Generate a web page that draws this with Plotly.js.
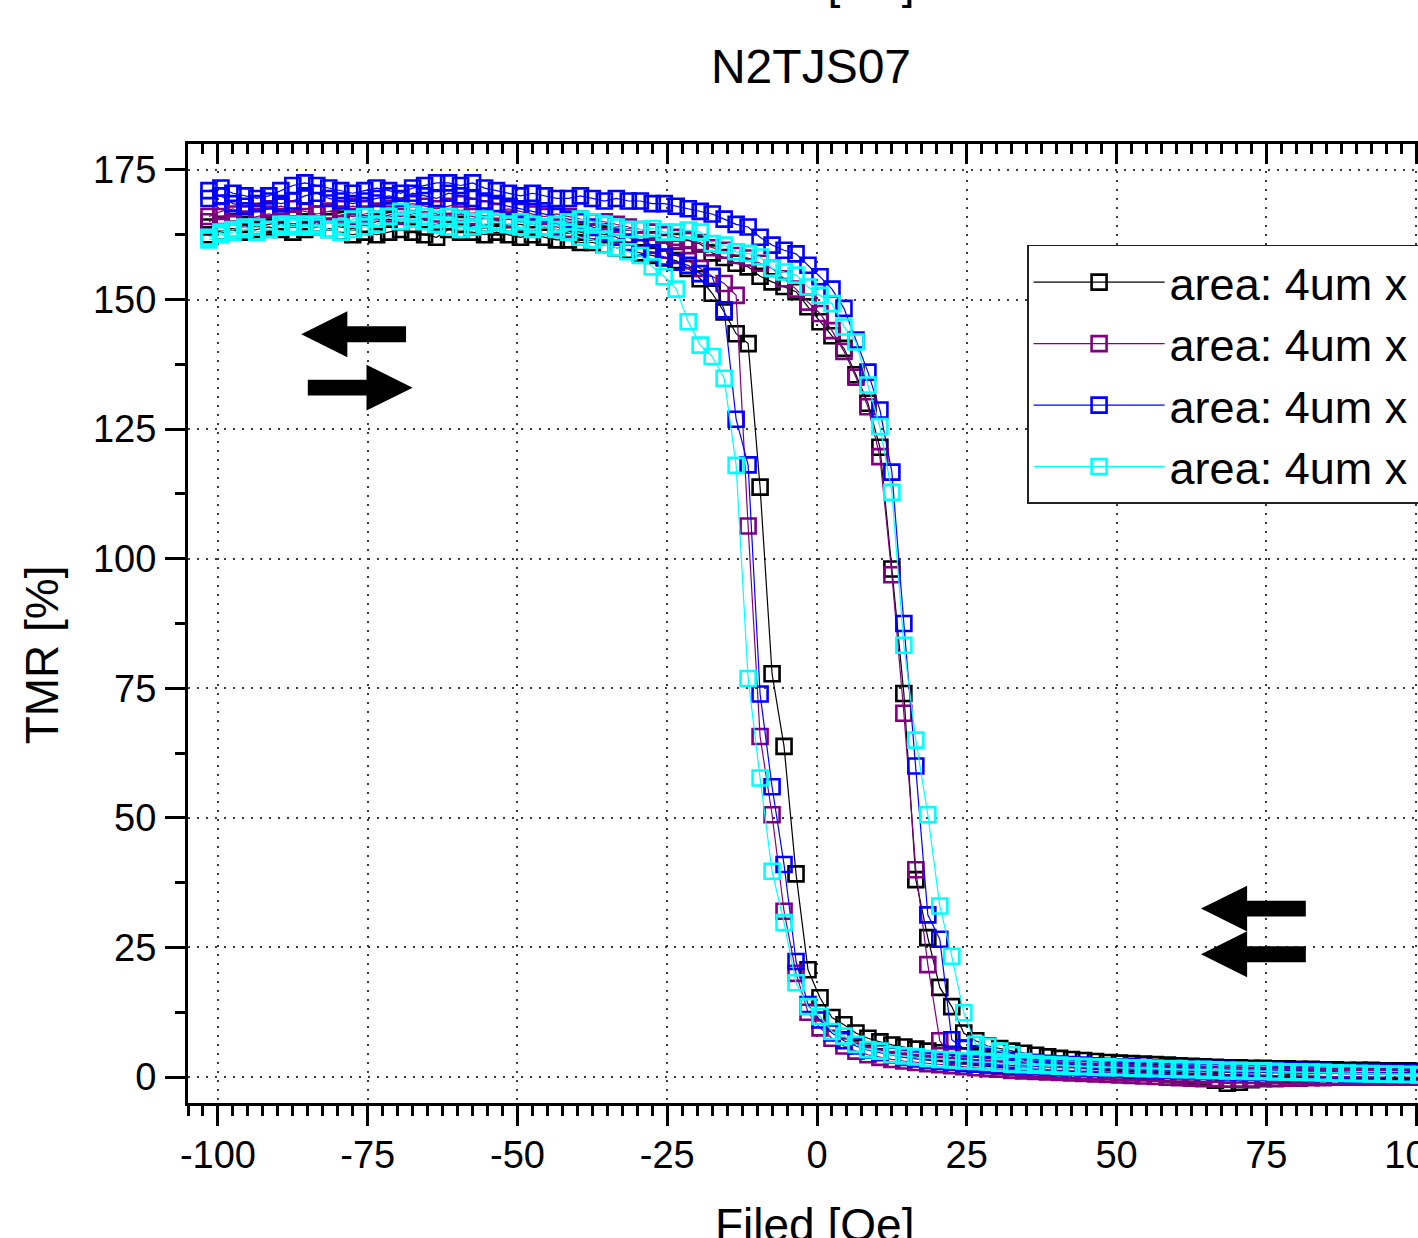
<!DOCTYPE html>
<html>
<head>
<meta charset="utf-8">
<script src="https://cdn.plot.ly/plotly-3.0.1.min.js"></script>
<style>
  html, body { margin: 0; padding: 0; overflow: hidden; background: #fff; }
  #chart { width: 1500px; height: 1300px; }
</style>
</head>
<body>
<div id="chart"></div>
<script>
// Field values (Oe), one sweep, ascending
const field = [-101.5,-99.5,-97.5,-95.5,-93.5,-91.5,-89.5,-87.5,-85.5,-83.5,
  -81.5,-79.5,-77.5,-75.5,-73.5,-71.5,-69.5,-67.5,-65.5,-63.5,
  -61.5,-59.5,-57.5,-55.5,-53.5,-51.5,-49.5,-47.5,-45.5,-43.5,
  -41.5,-39.5,-37.5,-35.5,-33.5,-31.5,-29.5,-27.5,-25.5,-23.5,
  -21.5,-19.5,-17.5,-15.5,-13.5,-11.5,-9.5,-7.5,-5.5,-3.5,
  -1.5,0.5,2.5,4.5,6.5,8.5,10.5,12.5,14.5,16.5,
  18.5,20.5,22.5,24.5,26.5,28.5,30.5,32.5,34.5,36.5,
  38.5,40.5,42.5,44.5,46.5,48.5,50.5,52.5,54.5,56.5,
  58.5,60.5,62.5,64.5,66.5,68.5,70.5,72.5,74.5,76.5,
  78.5,80.5,82.5,84.5,86.5,88.5,90.5,92.5,94.5,96.5,
  98.5,100.5];

// TMR (%) — up sweep (negative -> positive field), listed by ascending field
const blackUp = [164.0,164.5,165.0,164.5,164.0,164.5,165.0,165.5,165.0,164.5,
  165.0,165.5,165.0,164.5,165.0,165.5,165.0,164.5,164.0,164.5,
  165.0,164.5,164.0,164.5,164.0,164.5,164.5,164.0,164.0,163.5,
  163.5,163.0,163.0,162.5,162.5,162.0,161.5,161.5,161.0,161.2,
  161.4,160.7,159.0,158.1,157.0,156.3,154.5,153.4,152.5,151.5,
  148.6,145.7,143.0,140.6,135.5,130.0,121.5,98.0,74.0,38.1,
  26.9,17.3,13.6,8.5,7.0,6.0,5.5,5.0,4.6,4.2,
  3.9,3.6,3.4,3.2,3.0,2.8,2.7,2.6,2.5,2.4,
  2.3,2.2,2.1,2.0,1.9,1.8,1.8,1.7,1.7,1.6,
  1.6,1.5,1.5,1.4,1.4,1.3,1.3,1.3,1.2,1.2,
  1.2,1.1];
const purpleUp = [166.0,167.0,167.5,166.5,167.0,167.5,168.0,167.5,167.0,166.5,
  167.0,167.5,168.0,167.5,167.0,167.5,168.0,168.5,168.0,167.5,
  168.0,168.5,168.0,167.5,167.0,167.5,167.0,166.5,166.0,166.5,
  166.0,165.5,165.0,165.0,164.5,164.0,163.5,163.0,162.5,162.0,
  161.5,161.0,160.0,159.5,158.5,158.0,157.0,156.0,154.0,152.0,
  149.5,147.3,144.0,140.0,135.0,129.3,119.7,96.9,70.2,40.0,
  21.7,7.0,4.0,3.0,2.5,2.2,2.0,1.8,1.6,1.5,
  1.4,1.3,1.2,1.1,1.0,1.0,0.9,0.8,0.8,0.7,
  0.7,0.6,0.6,0.5,0.5,0.4,0.4,0.3,0.3,0.3,
  0.2,0.2,0.2,0.1,0.1,0.1,0.0,0.0,0.0,0.0,
  0.0,0.0];
const blueUp = [171.0,171.5,170.5,170.0,169.5,170.0,171.0,172.0,172.5,172.0,
  171.5,171.0,170.5,171.0,171.5,171.0,170.5,171.5,172.0,172.5,
  172.5,172.0,172.5,171.5,171.0,170.5,170.0,170.5,170.0,169.5,
  169.5,170.0,169.5,169.0,169.5,169.0,169.0,168.5,168.5,168.0,
  167.5,167.0,166.5,165.5,164.5,164.0,162.0,160.5,159.5,158.8,
  156.6,154.4,152.0,148.3,142.2,136.0,128.7,116.7,87.5,60.0,
  31.3,26.6,7.2,5.5,4.5,4.0,3.5,3.2,3.0,2.8,
  2.6,2.5,2.4,2.3,2.2,2.1,2.0,2.0,1.9,1.8,
  1.8,1.7,1.6,1.6,1.5,1.5,1.4,1.4,1.3,1.3,
  1.2,1.2,1.1,1.1,1.0,1.0,0.9,0.9,0.9,0.8,
  0.8,0.8];
const cyanUp = [162.0,163.0,163.5,164.0,163.0,163.5,164.0,164.5,164.0,164.5,
  163.5,163.0,163.5,164.0,164.5,166.0,167.0,166.5,165.0,164.5,
  164.0,163.5,164.0,164.5,165.0,164.5,164.0,163.5,164.0,164.5,
  165.0,165.5,165.0,164.5,164.0,163.5,163.5,163.7,163.0,163.0,
  163.4,163.0,160.8,160.5,159.2,158.9,158.2,156.0,155.3,154.7,
  152.4,150.8,149.2,144.7,141.8,133.5,125.5,112.8,83.3,65.0,
  50.6,33.0,23.3,12.4,6.3,5.9,5.0,4.3,3.0,2.6,
  2.4,2.3,2.2,2.1,2.0,2.0,1.9,1.8,1.8,1.7,
  1.6,1.6,1.5,1.5,1.4,1.3,1.3,1.2,1.2,1.1,
  1.0,1.0,0.9,0.9,0.8,0.8,0.7,0.7,0.6,0.6,
  0.5,0.5];

// TMR (%) — down sweep (positive -> negative field), listed by ascending field
const blackDown = [162.5,163.0,163.5,163.0,163.5,164.0,163.5,163.0,163.5,164.0,
  163.5,163.0,162.5,163.0,162.5,163.0,163.5,163.0,162.5,162.0,
  163.5,163.0,163.0,162.5,163.0,162.5,162.0,162.5,162.0,161.5,
  161.5,161.0,161.0,160.5,160.0,159.5,159.0,158.5,158.0,157.5,
  156.0,154.0,151.2,147.6,143.4,141.5,113.8,77.8,63.8,39.2,
  20.7,15.3,11.5,10.1,8.5,7.5,6.8,6.2,5.8,5.4,
  5.0,4.7,4.4,4.1,3.8,3.6,3.4,3.2,3.0,2.8,
  2.6,2.4,2.2,2.0,1.8,1.6,1.4,1.2,1.0,0.8,
  0.6,0.4,0.2,0.0,-0.6,-1.2,-1.0,-0.5,0.0,0.3,
  0.5,0.6,0.7,0.7,0.8,0.8,0.8,0.9,0.9,0.9,
  0.9,1.0];
const purpleDown = [165.0,166.0,166.5,165.5,166.0,166.5,166.0,165.5,166.0,166.5,
  167.0,166.5,166.0,166.5,167.0,166.5,166.0,166.5,167.0,166.5,
  166.0,166.5,166.0,165.5,165.0,165.5,165.0,164.5,164.0,164.0,
  163.5,163.5,163.0,163.0,162.5,162.0,161.5,160.5,159.5,158.5,
  157.5,156.0,154.5,153.1,150.8,106.3,65.7,50.6,32.0,20.0,
  12.5,9.5,7.5,6.0,5.0,4.3,3.8,3.4,3.1,2.8,
  2.6,2.4,2.2,2.0,1.8,1.6,1.5,1.3,1.2,1.1,
  1.0,0.9,0.8,0.7,0.6,0.5,0.4,0.3,0.2,0.1,
  0.0,-0.1,-0.2,-0.3,-0.3,-0.4,-0.4,-0.4,-0.3,-0.3,
  -0.2,-0.2,-0.1,-0.1,0.0,0.0,0.0,0.1,0.1,0.1,
  0.1,0.1];
const blueDown = [169.5,170.0,168.5,168.0,168.5,169.0,168.5,169.0,170.0,170.5,
  169.5,169.0,168.5,169.0,169.5,170.0,169.5,170.5,170.0,169.5,
  170.5,170.0,169.5,169.0,168.5,168.0,167.5,167.0,166.5,166.0,
  165.5,165.0,164.0,163.0,162.0,161.0,160.0,159.0,158.2,157.2,
  156.6,155.0,154.4,148.0,126.9,118.1,73.9,56.0,41.0,22.3,
  14.0,11.0,8.5,7.0,6.0,5.2,4.7,4.2,3.8,3.5,
  3.2,3.0,2.8,2.6,2.5,2.4,2.3,2.2,2.1,2.0,
  1.9,1.8,1.8,1.7,1.6,1.6,1.5,1.4,1.4,1.3,
  1.3,1.2,1.2,1.1,1.1,1.0,1.0,0.9,0.9,0.8,
  0.8,0.8,0.7,0.7,0.7,0.6,0.6,0.6,0.5,0.5,
  0.5,0.5];
const cyanDown = [161.5,162.5,163.0,163.5,164.0,163.5,164.5,164.0,164.5,164.0,
  163.5,164.0,165.5,166.0,165.5,166.0,165.0,165.5,166.0,165.5,
  166.0,165.5,165.0,165.5,165.0,164.5,165.0,164.5,164.0,163.5,
  163.0,162.0,161.5,160.5,160.0,159.2,158.5,156.3,154.4,152.0,
  145.7,141.2,139.0,134.8,118.0,76.9,57.7,39.7,29.8,18.2,
  13.6,11.7,8.8,7.9,6.3,5.3,5.0,4.3,4.1,3.9,
  3.6,3.4,3.3,3.1,3.0,2.9,2.7,2.5,2.4,2.3,
  2.2,2.1,2.0,2.0,1.9,1.8,1.8,1.7,1.6,1.6,
  1.5,1.4,1.4,1.3,1.3,1.2,1.2,1.1,1.1,1.0,
  1.0,0.9,0.9,0.8,0.8,0.7,0.7,0.6,0.6,0.5,
  0.5,0.4];

const seriesNames = ["area: 4um x 4um", "area: 4um x 6um", "area: 4um x 8um", "area: 4um x 10um"];
const seriesColors = ["#000000", "#800080", "#0000ff", "#00ffff"];
const upSweeps = [blackUp, purpleUp, blueUp, cyanUp];
const downSweeps = [blackDown, purpleDown, blueDown, cyanDown];

// axis tick labels (hyphen-minus as in the original)
const xTickVals = [-100, -75, -50, -25, 0, 25, 50, 75, 100];
const xTickText = ["-100", "-75", "-50", "-25", "0", "25", "50", "75", "100"];

// arrow glyphs (tip position in data units, direction)
const arrowTips = [
  {x: -86.1, y: 143.3, dir: -1},
  {x: -67.5, y: 133.0, dir: 1},
  {x: 64.1, y: 32.5, dir: -1},
  {x: 64.1, y: 23.7, dir: -1}
];

const FONT = "Liberation Sans, Arial, Helvetica, sans-serif";

const traces = seriesNames.map((name, i) => {
  const xs = field.concat(field.slice().reverse());
  const ys = upSweeps[i].concat(downSweeps[i].slice().reverse());
  return {
    type: "scatter",
    mode: "lines+markers",
    name: name,
    x: xs,
    y: ys,
    line: {color: seriesColors[i], width: 1.2},
    marker: {symbol: "square-open", size: 15, color: seriesColors[i], line: {color: seriesColors[i], width: 2.6}},
    hoverinfo: "x+y+name"
  };
});
// empty trace on the top axis so the mirrored tick axis is drawn
traces.push({type: "scatter", x: [], y: [], xaxis: "x2", yaxis: "y", showlegend: false, hoverinfo: "skip"});

function arrowPath(a) {
  const HL = 7.7, L = 17.5, HH = 4.43, ST = 1.54;
  const s = -a.dir;
  const p = [
    [a.x, a.y],
    [a.x + s * HL, a.y + HH],
    [a.x + s * HL, a.y + ST],
    [a.x + s * L, a.y + ST],
    [a.x + s * L, a.y - ST],
    [a.x + s * HL, a.y - ST],
    [a.x + s * HL, a.y - HH]
  ];
  return "M" + p.map(q => q[0] + "," + q[1]).join(" L") + " Z";
}

const shapes = arrowTips.map(a => ({
  type: "path", xref: "x", yref: "y", path: arrowPath(a),
  fillcolor: "#000", line: {width: 0}, layer: "above"
}));

const gridStyle = {showgrid: true, gridcolor: "#3a3a3a", gridwidth: 1.6, griddash: "2px,7px"};

const layout = {
  width: 1500, height: 1300,
  margin: {l: 188, r: 54, t: 144, b: 197, autoexpand: false},
  paper_bgcolor: "#fff", plot_bgcolor: "#fff",
  font: {family: FONT, color: "#000"},
  title: {text: "N2TJS07", font: {family: FONT, size: 48, color: "#000"},
          xref: "container", x: 811 / 1500, xanchor: "center",
          yref: "container", y: 1 - 66 / 1300, yanchor: "middle"},
  showlegend: true,
  legend: {x: 0.667, y: 0.8948, xanchor: "left", yanchor: "top",
           bgcolor: "#fff", bordercolor: "#222", borderwidth: 1.5,
           font: {family: FONT, size: 45, color: "#000"}, itemwidth: 131,
           tracegroupgap: 0},
  xaxis: Object.assign({
    range: [-105, 105], tickmode: "array", tickvals: xTickVals, ticktext: xTickText,
    ticks: "outside", ticklen: 20, tickwidth: 3, tickcolor: "#000",
    showline: true, linewidth: 3, linecolor: "#000", zeroline: false,
    tickfont: {family: FONT, size: 38, color: "#000"}, ticklabelstandoff: -4,
    minor: {tick0: 0, dtick: 2.5, ticks: "outside", ticklen: 10, tickwidth: 2.5, tickcolor: "#000", showgrid: false}
  }, gridStyle),
  xaxis2: {
    overlaying: "x", side: "top", anchor: "y", range: [-105, 105], tick0: 0, dtick: 25,
    ticks: "inside", ticklen: 20, tickwidth: 3, tickcolor: "#000", showticklabels: false,
    showline: true, linewidth: 3, linecolor: "#000", showgrid: false, zeroline: false,
    minor: {tick0: 0, dtick: 2.5, ticks: "inside", ticklen: 10, tickwidth: 2.5, tickcolor: "#000", showgrid: false}
  },
  yaxis: Object.assign({
    range: [-5, 180], tick0: 0, dtick: 25, ticks: "outside", ticklen: 20, tickwidth: 3, tickcolor: "#000",
    showline: true, linewidth: 3, linecolor: "#000", zeroline: false,
    tickfont: {family: FONT, size: 38, color: "#000"}, ticklabelstandoff: 1,
    minor: {tick0: 0, dtick: 12.5, ticks: "outside", ticklen: 10, tickwidth: 2.5, tickcolor: "#000", showgrid: false}
  }, gridStyle),
  shapes: shapes,
  annotations: [
    {text: "TMR [%]", textangle: -90, xref: "paper", yref: "paper", x: -0.1164, y: 0.4674,
     xanchor: "center", yanchor: "middle", showarrow: false, font: {family: FONT, size: 46, color: "#000"}},
    {text: "Filed [Oe]", xref: "paper", yref: "paper", x: 0.4984, y: -0.1268,
     xanchor: "center", yanchor: "middle", showarrow: false, font: {family: FONT, size: 46, color: "#000"}},
    {text: "Filed [Oe]", xref: "paper", yref: "paper", x: 0.4984, y: 1.169,
     xanchor: "center", yanchor: "middle", showarrow: false, font: {family: FONT, size: 46, color: "#000"}}
  ]
};

Plotly.newPlot("chart", traces, layout, {displayModeBar: false, staticPlot: false});
</script>
</body>
</html>
